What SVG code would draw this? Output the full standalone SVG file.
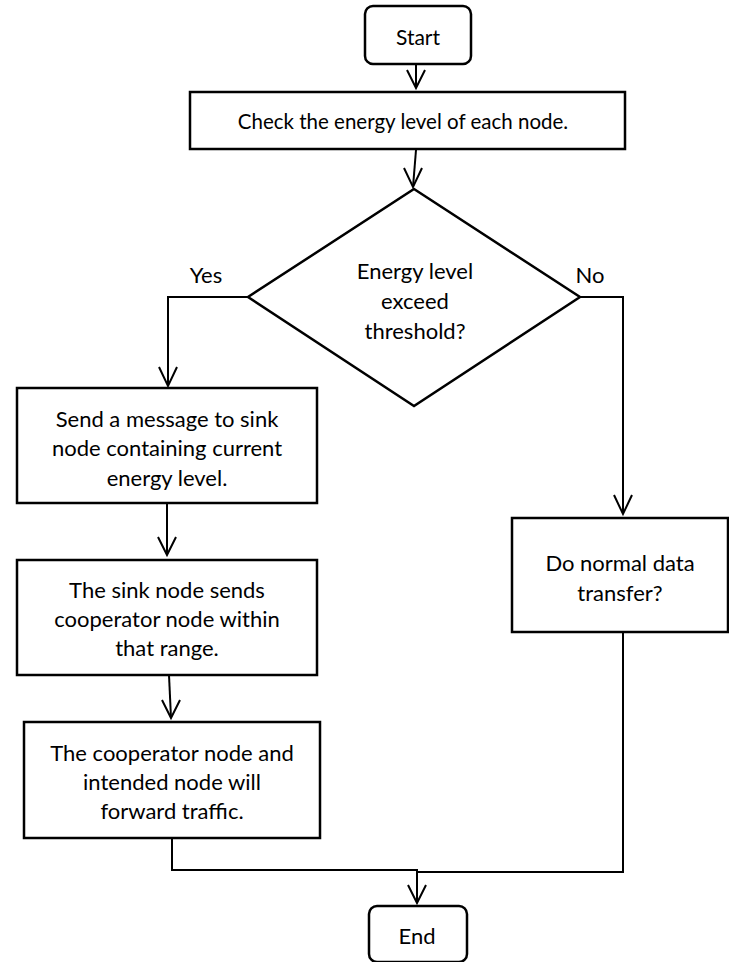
<svg xmlns="http://www.w3.org/2000/svg" width="729" height="962" viewBox="0 0 729 962">
<style>
.box{fill:#fff;stroke:#000;stroke-width:2.5}
.ln{fill:none;stroke:#000;stroke-width:2}
.hd{fill:none;stroke:#000;stroke-width:2}
text{font-family:Lato,"Open Sans",sans-serif;font-size:22px;fill:#000;text-anchor:middle;dominant-baseline:central}
</style>
<rect width="729" height="962" fill="#fff"/>
<g id="connectors">
<path class="ln" d="M416,65 L416,88"/><path class="hd" d="M407,70 L416,88 L425,70"/>
<path class="ln" d="M416,150 L413,187"/><path class="hd" d="M404,168 L413,187 L422,168"/>
<path class="ln" d="M248,297 L168,297 L168,386"/><path class="hd" d="M159,367 L168,386 L177,367"/>
<path class="ln" d="M580,297 L623,297 L623,514"/><path class="hd" d="M614,495 L623,514 L632,495"/>
<path class="ln" d="M167,504 L167,555"/><path class="hd" d="M158,537 L167,555 L176,537"/>
<path class="ln" d="M169,675 L171,718"/><path class="hd" d="M162,700 L171,718 L180,700"/>
<path class="ln" d="M172,833 L172,870 L417,870 L417,903"/><path class="hd" d="M408,885 L417,903 L426,885"/>
<path class="ln" d="M623,632 L623,872 L417,872"/>
<text x="206" y="274">Yes</text>
<text x="590" y="274">No</text>
</g>
<g id="start"><rect class="box" x="365" y="6" width="106" height="58" rx="8"/><text x="418" y="36" style="font-size:21px">Start</text></g>
<g id="check"><rect class="box" x="190" y="92" width="435" height="57"/><text x="403" y="121" style="font-size:20.5px">Check the energy level of each node.</text></g>
<g id="decision"><polygon class="box" points="414,189 580,297 414,406 248,297"/>
<text x="415" y="270">Energy level</text><text x="415" y="300">exceed</text><text x="415" y="330">threshold?</text></g>
<g id="send"><rect class="box" x="17" y="388" width="300" height="115"/>
<text x="167" y="418">Send a message to sink</text><text x="167" y="447">node containing current</text><text x="167" y="477">energy level.</text></g>
<g id="sink"><rect class="box" x="17" y="560" width="300" height="115"/>
<text x="167" y="589">The sink node sends</text><text x="167" y="618">cooperator node within</text><text x="167" y="647">that range.</text></g>
<g id="coop"><rect class="box" x="24" y="722" width="296" height="116"/>
<g style="font-size:22.5px"><text x="172" y="752">The cooperator node and</text><text x="172" y="781">intended node will</text><text x="172" y="810">forward traffic.</text></g></g>
<g id="normal"><rect class="box" x="512" y="518" width="216" height="114"/>
<text x="620" y="562">Do normal data</text><text x="620" y="592">transfer?</text></g>
<g id="end"><rect class="box" x="369" y="906" width="98" height="56" rx="8"/><text x="417" y="935">End</text></g>
</svg>
